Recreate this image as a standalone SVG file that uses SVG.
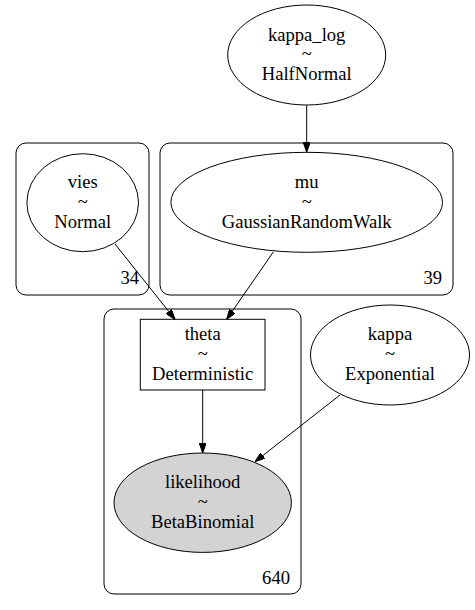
<svg xmlns="http://www.w3.org/2000/svg" width="475" height="610" viewBox="0 0 475 610">
<defs>
<marker id="arr" markerWidth="10" markerHeight="7" refX="10" refY="3.5" orient="auto" markerUnits="userSpaceOnUse">
<polygon points="0,0 10,3.5 0,7" fill="#000" stroke="#000" stroke-width="1"/>
</marker>
<style>
text{font-size:18.6px;text-anchor:middle;fill:#000}
.node{fill:#fff;stroke:#000;stroke-width:1}
.cl{fill:none;stroke:#000;stroke-width:1}
.e{fill:none;stroke:#000;stroke-width:1;marker-end:url(#arr)}
.lab{text-anchor:end}
</style>
</defs>
<rect width="475" height="610" fill="#fff"/>
<g font-family="'Liberation Serif', 'Times New Roman', serif">
<g id="cluster34">
<rect class="cl" x="16" y="143" width="133" height="152" rx="10"/>
<text class="lab" x="139" y="284">34</text>
</g>
<g id="cluster39">
<rect class="cl" x="160" y="143" width="293" height="152" rx="10"/>
<text class="lab" x="442" y="284">39</text>
</g>
<g id="cluster640">
<rect class="cl" x="104" y="309" width="197" height="285" rx="10"/>
<text class="lab" x="290" y="584">640</text>
</g>
<g id="kappa_log">
<ellipse class="node" cx="306.7" cy="55" rx="79" ry="50"/>
<text x="306.7" y="41">kappa_log</text>
<text x="306.7" y="60">~</text>
<text x="306.7" y="80">HalfNormal</text>
</g>
<g id="vies">
<ellipse class="node" cx="82.7" cy="202.7" rx="55.8" ry="49"/>
<text x="82.7" y="188">vies</text>
<text x="82.7" y="208">~</text>
<text x="82.7" y="228">Normal</text>
</g>
<g id="mu">
<ellipse class="node" cx="306.7" cy="202.3" rx="135.8" ry="50"/>
<text x="306.7" y="188">mu</text>
<text x="306.7" y="208">~</text>
<text x="306.7" y="228">GaussianRandomWalk</text>
</g>
<g id="theta">
<rect class="node" x="140.3" y="319.3" width="124.7" height="70.7"/>
<text x="202.7" y="340">theta</text>
<text x="202.7" y="360">~</text>
<text x="202.7" y="380">Deterministic</text>
</g>
<g id="kappa">
<ellipse class="node" cx="390" cy="355" rx="79.5" ry="50"/>
<text x="390" y="340">kappa</text>
<text x="390" y="360">~</text>
<text x="390" y="380">Exponential</text>
</g>
<g id="likelihood">
<ellipse class="node" cx="202.7" cy="502.7" rx="88.7" ry="49.7" style="fill:#d3d3d3"/>
<text x="202.7" y="488">likelihood</text>
<text x="202.7" y="508">~</text>
<text x="202.7" y="528">BetaBinomial</text>
</g>
</g>
<g id="edges">
<line class="e" x1="306.7" y1="105" x2="306.7" y2="152.3"/>
<line class="e" x1="115" y1="244" x2="175" y2="319.3"/>
<line class="e" x1="273.3" y1="252" x2="226.7" y2="319.3"/>
<line class="e" x1="202.7" y1="390" x2="202.7" y2="453"/>
<line class="e" x1="340" y1="395" x2="255" y2="461.7"/>
</g>
</svg>
